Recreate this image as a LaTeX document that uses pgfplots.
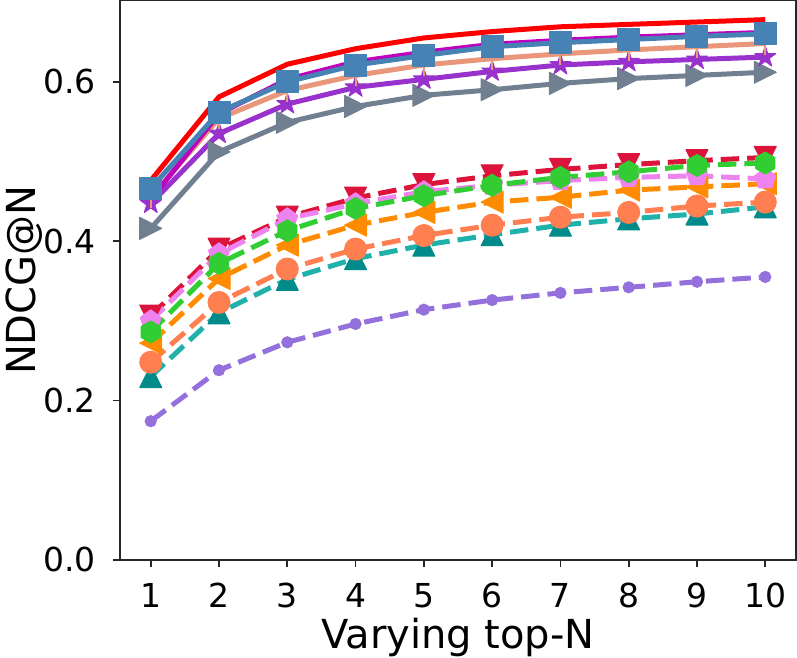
\documentclass[border=0pt]{standalone}
\usepackage{fontspec}
\setmainfont{DejaVu Sans}
\usepackage{pgfplots}
\pgfplotsset{compat=1.18}
\usetikzlibrary{plotmarks}
\definecolor{cred}{HTML}{FF0000}
\definecolor{cblue}{HTML}{4682B4}
\definecolor{cmag}{HTML}{BF00BF}
\definecolor{csalmon}{HTML}{E9967A}
\definecolor{corchid}{HTML}{9932CC}
\definecolor{cgray}{HTML}{708090}
\definecolor{ccrimson}{HTML}{DC143C}
\definecolor{cviolet}{HTML}{EE82EE}
\definecolor{cgreen}{HTML}{32CD32}
\definecolor{corange}{HTML}{FF8C00}
\definecolor{ccoral}{HTML}{FF7F50}
\definecolor{cteal}{HTML}{20B2AA}
\definecolor{cdcyan}{HTML}{008B8B}
\definecolor{cpurple}{HTML}{9370DB}
\pgfdeclareplotmark{mtriup}{%
 \pgfpathmoveto{\pgfqpoint{0pt}{\pgfplotmarksize}}%
 \pgfpathlineto{\pgfqpoint{-\pgfplotmarksize}{-\pgfplotmarksize}}%
 \pgfpathlineto{\pgfqpoint{\pgfplotmarksize}{-\pgfplotmarksize}}%
 \pgfpathclose\pgfusepathqfillstroke}
\pgfdeclareplotmark{mtridown}{%
 \pgfpathmoveto{\pgfqpoint{0pt}{-\pgfplotmarksize}}%
 \pgfpathlineto{\pgfqpoint{-\pgfplotmarksize}{\pgfplotmarksize}}%
 \pgfpathlineto{\pgfqpoint{\pgfplotmarksize}{\pgfplotmarksize}}%
 \pgfpathclose\pgfusepathqfillstroke}
\pgfdeclareplotmark{mtrileft}{%
 \pgfpathmoveto{\pgfqpoint{-\pgfplotmarksize}{0pt}}%
 \pgfpathlineto{\pgfqpoint{\pgfplotmarksize}{-\pgfplotmarksize}}%
 \pgfpathlineto{\pgfqpoint{\pgfplotmarksize}{\pgfplotmarksize}}%
 \pgfpathclose\pgfusepathqfillstroke}
\pgfdeclareplotmark{mtriright}{%
 \pgfpathmoveto{\pgfqpoint{\pgfplotmarksize}{0pt}}%
 \pgfpathlineto{\pgfqpoint{-\pgfplotmarksize}{-\pgfplotmarksize}}%
 \pgfpathlineto{\pgfqpoint{-\pgfplotmarksize}{\pgfplotmarksize}}%
 \pgfpathclose\pgfusepathqfillstroke}
\pgfdeclareplotmark{mhex}{%
 \pgfpathmoveto{\pgfpointpolar{90}{\pgfplotmarksize}}%
 \pgfpathlineto{\pgfpointpolar{150}{\pgfplotmarksize}}%
 \pgfpathlineto{\pgfpointpolar{210}{\pgfplotmarksize}}%
 \pgfpathlineto{\pgfpointpolar{270}{\pgfplotmarksize}}%
 \pgfpathlineto{\pgfpointpolar{330}{\pgfplotmarksize}}%
 \pgfpathlineto{\pgfpointpolar{30}{\pgfplotmarksize}}%
 \pgfpathclose\pgfusepathqfillstroke}
\pgfdeclareplotmark{mstar}{%
 \pgfpathmoveto{\pgfpointpolar{90}{\pgfplotmarksize}}%
 \pgfpathlineto{\pgfpointpolar{126}{0.382\pgfplotmarksize}}%
 \pgfpathlineto{\pgfpointpolar{162}{\pgfplotmarksize}}%
 \pgfpathlineto{\pgfpointpolar{198}{0.382\pgfplotmarksize}}%
 \pgfpathlineto{\pgfpointpolar{234}{\pgfplotmarksize}}%
 \pgfpathlineto{\pgfpointpolar{270}{0.382\pgfplotmarksize}}%
 \pgfpathlineto{\pgfpointpolar{306}{\pgfplotmarksize}}%
 \pgfpathlineto{\pgfpointpolar{342}{0.382\pgfplotmarksize}}%
 \pgfpathlineto{\pgfpointpolar{18}{\pgfplotmarksize}}%
 \pgfpathlineto{\pgfpointpolar{54}{0.382\pgfplotmarksize}}%
 \pgfpathclose\pgfusepathqfillstroke}
\begin{document}
\begin{tikzpicture}
\begin{axis}[
  scale only axis,
  width=338pt, height=279.65pt,
  xmin=0.55, xmax=10.45, ymin=0, ymax=0.702,
  xtick={1,2,3,4,5,6,7,8,9,10},
  ytick={0,0.2,0.4,0.6},
  yticklabel style={/pgf/number format/fixed,/pgf/number format/fixed zerofill,/pgf/number format/precision=1},
  /pgf/number format/assume math mode=true,
  tick align=outside, tick pos=left,
  major tick length=3.5pt,
  every tick/.style={black!85, line width=0.8pt},
  axis line style={black!85, line width=0.8pt},
  tick label style={font=\fontsize{16.5}{19}\selectfont, inner sep=0pt},
  xticklabel style={anchor=north, yshift=-7.9pt},
  yticklabel style={anchor=east, xshift=-8.5pt},
  label style={font=\fontsize{20}{24}\selectfont, inner sep=0pt},
  xlabel={Varying top-N},
  ylabel={NDCG@N},
  xlabel style={at={(axis description cs:0.5,0)}, anchor=base, yshift=-44.5pt},
  ylabel style={at={(axis description cs:-0.1257,0.5)}, anchor=base},
  every axis plot/.append style={line width=2.5pt, line join=round},
  mydash/.style={dash pattern=on 9.25pt off 4pt},
]
% solid series
\addplot[cgray, mark=mtriright, mark size=5.5pt, mark options={solid, line width=0.5pt, fill=cgray}] coordinates {
(1,0.416) (2,0.512) (3,0.549) (4,0.569) (5,0.583) (6,0.590) (7,0.598) (8,0.604) (9,0.608) (10,0.612)};
\addplot[corchid, mark=mstar, mark size=5.5pt, mark options={solid, line width=0.5pt, fill=corchid}] coordinates {
(1,0.447) (2,0.535) (3,0.572) (4,0.593) (5,0.603) (6,0.613) (7,0.621) (8,0.625) (9,0.628) (10,0.631)};
\addplot[csalmon, mark=|, mark size=5.5pt, mark options={solid, line width=1pt}] coordinates {
(1,0.455) (2,0.554) (3,0.589) (4,0.608) (5,0.621) (6,0.629) (7,0.635) (8,0.640) (9,0.644) (10,0.648)};
\addplot[cmag, no marks] coordinates {
(1,0.452) (2,0.560) (3,0.603) (4,0.625) (5,0.637) (6,0.647) (7,0.652) (8,0.656) (9,0.659) (10,0.662)};
\addplot[cblue, mark=square*, mark size=5.5pt, mark options={solid, line width=0.5pt, fill=cblue}] coordinates {
(1,0.466) (2,0.562) (3,0.600) (4,0.621) (5,0.633) (6,0.644) (7,0.649) (8,0.653) (9,0.657) (10,0.660)};
\addplot[cred, no marks] coordinates {
(1,0.476) (2,0.581) (3,0.622) (4,0.6415) (5,0.655) (6,0.663) (7,0.669) (8,0.672) (9,0.675) (10,0.678)};
% dashed series
\addplot[cpurple, mydash, mark=*, mark size=2.8pt, mark options={solid, line width=0.5pt, fill=cpurple}] coordinates {
(1,0.174) (2,0.238) (3,0.273) (4,0.296) (5,0.314) (6,0.326) (7,0.335) (8,0.342) (9,0.349) (10,0.355)};
\addplot[cteal, mydash, mark=mtriup, mark size=5.5pt, mark options={solid, line width=0.5pt, fill=cdcyan, draw=cdcyan}] coordinates {
(1,0.230) (2,0.310) (3,0.352) (4,0.378) (5,0.395) (6,0.408) (7,0.420) (8,0.428) (9,0.434) (10,0.443)};
\addplot[ccrimson, mydash, mark=mtridown, mark size=5.5pt, mark options={solid, line width=0.5pt, fill=ccrimson}] coordinates {
(1,0.306) (2,0.390) (3,0.430) (4,0.454) (5,0.471) (6,0.482) (7,0.490) (8,0.496) (9,0.501) (10,0.505)};
\addplot[corange, mydash, mark=mtrileft, mark size=5.5pt, mark options={solid, line width=0.5pt, fill=corange}] coordinates {
(1,0.272) (2,0.353) (3,0.395) (4,0.420) (5,0.436) (6,0.449) (7,0.455) (8,0.464) (9,0.468) (10,0.472)};
\addplot[cviolet, mydash, mark=pentagon*, mark size=5.5pt, mark options={solid, line width=0.5pt, fill=cviolet}] coordinates {
(1,0.300) (2,0.384) (3,0.428) (4,0.447) (5,0.462) (6,0.470) (7,0.476) (8,0.480) (9,0.482) (10,0.478)};
\addplot[cgreen, mydash, mark=mhex, mark size=5.5pt, mark options={solid, line width=0.5pt, fill=cgreen}] coordinates {
(1,0.286) (2,0.372) (3,0.413) (4,0.441) (5,0.457) (6,0.470) (7,0.480) (8,0.487) (9,0.495) (10,0.498)};
\addplot[ccoral, mydash, mark=*, mark size=5.5pt, mark options={solid, line width=0.5pt, fill=ccoral}] coordinates {
(1,0.248) (2,0.323) (3,0.365) (4,0.390) (5,0.407) (6,0.420) (7,0.430) (8,0.436) (9,0.444) (10,0.449)};
\end{axis}
\pgfresetboundingbox
\path[use as bounding box] ([shift={(-60pt,-48.85pt)}]current axis.south west) rectangle ([shift={(0.5pt,0.25pt)}]current axis.north east);
\end{tikzpicture}
\end{document}
